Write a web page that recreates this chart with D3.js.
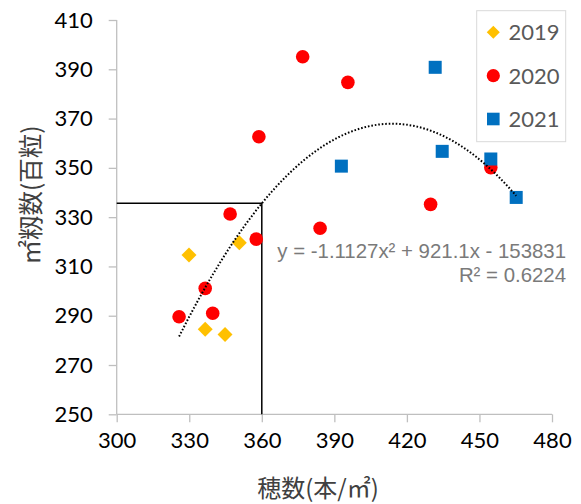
<!DOCTYPE html>
<html>
<head>
<meta charset="utf-8">
<script src="https://cdn.jsdelivr.net/npm/d3@7"></script>
<style>
  html, body { margin: 0; padding: 0; background: #fff; }
  svg { display: block; }
</style>
</head>
<body>
<div id="chart"></div>
<script>
// ---- Data ----
const seriesNames = ["2019", "2020", "2021"];
const x2019 = [329.9, 350.7, 336.6, 344.8];
const y2019 = [314.6, 319.6, 284.5, 282.4];
const x2020 = [346.9, 357.7, 336.6, 325.8, 339.7, 384.1, 358.8, 376.9, 395.6, 429.8, 454.7];
const y2020 = [331.3, 321.1, 301.1, 289.6, 291.0, 325.5, 362.6, 395.1, 384.7, 335.2, 350.1];
const x2021 = [431.7, 392.9, 434.6, 454.7, 465.2];
const y2021 = [390.8, 350.7, 356.7, 353.6, 338.0];
const xTicks = [300, 330, 360, 390, 420, 450, 480];
const yTicks = [250, 270, 290, 310, 330, 350, 370, 390, 410];
// trendline coefficients as displayed (values in grains; chart in hundreds of grains)
const trendCoef = [-1.1127, 921.1, -153831];
const trendScale = 100;
const refX = 360;
const eqLine1 = "y = -1.1127x² + 921.1x - 153831";
const eqLine2 = "R² = 0.6224";
const xTitle = "穂数(本/㎡)";
const yTitle = "㎡籾数(百粒)";

// ---- Chart ----
const W = 581, H = 504;
const svg = d3.select("#chart").append("svg").attr("width", W).attr("height", H);

const x = d3.scaleLinear().domain([300, 480]).range([116.7, 552]);
const y = d3.scaleLinear().domain([250, 410]).range([414.3, 20]);

const axisColor = "#bfbfbf";
const tickFont = "Lato, 'Open Sans', sans-serif";

// Y axis
const yAxis = svg.append("g").attr("transform", `translate(${x(300)},0)`)
  .call(d3.axisLeft(y).tickValues(yTicks).tickSize(8).tickPadding(16).tickFormat(d3.format("d")));
// X axis
const xAxis = svg.append("g").attr("transform", `translate(0,${y(250)})`)
  .call(d3.axisBottom(x).tickValues(xTicks).tickSize(8).tickPadding(10).tickFormat(d3.format("d")));
[xAxis, yAxis].forEach(g => {
  g.select(".domain").attr("stroke", axisColor).attr("stroke-width", 1.3);
  g.selectAll(".tick line").attr("stroke", axisColor).attr("stroke-width", 1.3);
  g.selectAll(".tick text").attr("fill", "#000").style("font-family", tickFont).style("font-size", "22px");
});
yAxis.select(".domain").attr("d", `M0,${y(410)}V${y(250)}`);
xAxis.select(".domain").attr("d", `M${x(300)},0H${x(480)}`);

// Trend function
const trend = v => (trendCoef[0] * v * v + trendCoef[1] * v + trendCoef[2]) / trendScale;

// Reference lines
const refY = trend(refX);
svg.append("path")
  .attr("d", `M${x(300)},${y(refY)}H${x(refX)}V${y(250)}`)
  .attr("fill", "none").attr("stroke", "#000").attr("stroke-width", 1.5);

// Points
const pts19 = x2019.map((v, i) => [v, y2019[i]]);
const pts20 = x2020.map((v, i) => [v, y2020[i]]);
const pts21 = x2021.map((v, i) => [v, y2021[i]]);

svg.append("g").selectAll("path").data(pts19).join("path")
  .attr("d", d3.symbol().type(d3.symbolSquare).size(112))
  .attr("transform", d => `translate(${x(d[0])},${y(d[1])}) rotate(45)`)
  .attr("fill", "#FFC000");
svg.append("g").selectAll("circle").data(pts20).join("circle")
  .attr("cx", d => x(d[0])).attr("cy", d => y(d[1])).attr("r", 6.8)
  .attr("fill", "#FF0000");
svg.append("g").selectAll("rect").data(pts21).join("rect")
  .attr("x", d => x(d[0]) - 6.5).attr("y", d => y(d[1]) - 6.5)
  .attr("width", 13).attr("height", 13)
  .attr("fill", "#0070C0");

// Trendline
const allX = x2019.concat(x2020, x2021);
const tMin = d3.min(allX), tMax = d3.max(allX);
const tPts = d3.range(0, 101).map(i => tMin + (tMax - tMin) * i / 100);
svg.append("path")
  .attr("d", d3.line().x(v => x(v)).y(v => y(trend(v)))(tPts))
  .attr("fill", "none").attr("stroke", "#000").attr("stroke-width", 2)
  .attr("stroke-dasharray", "1.6,1.9");

// Equation label (one text block, two lines)
const eq = svg.append("text")
  .style("font-family", "'Liberation Sans', Arial, sans-serif").style("font-size", "20.4px")
  .attr("fill", "#7a7a7a").attr("text-anchor", "end");
eq.append("tspan").attr("x", 566).attr("y", 258).text(eqLine1);
eq.append("tspan").attr("x", 566).attr("y", 282).text(eqLine2);

// Axis titles
const cjk = "'Noto Sans CJK JP', 'Noto Sans', sans-serif";
svg.append("text").attr("x", 318).attr("y", 497).attr("text-anchor", "middle")
  .style("font-family", cjk).style("font-size", "24px").attr("fill", "#404040").text(xTitle);
svg.append("text").attr("transform", "translate(40,195) rotate(-90)").attr("text-anchor", "middle")
  .style("font-family", cjk).style("font-size", "24.5px").attr("fill", "#404040").text(yTitle);

// Legend
const lg = svg.append("g");
lg.append("rect").attr("x", 476.7).attr("y", 10.7).attr("width", 89).attr("height", 131)
  .attr("fill", "#fff").attr("stroke", "#d9d9d9").attr("stroke-width", 1);
const legY = [32.3, 75.7, 119];
const mx = 493.3;
lg.append("path").attr("d", d3.symbol().type(d3.symbolSquare).size(85)())
  .attr("transform", `translate(${mx},${legY[0]}) rotate(45)`).attr("fill", "#FFC000");
lg.append("circle").attr("cx", mx).attr("cy", legY[1]).attr("r", 6.6).attr("fill", "#FF0000");
lg.append("rect").attr("x", mx - 6.3).attr("y", legY[2] - 6.3).attr("width", 12.6).attr("height", 12.6).attr("fill", "#0070C0");
seriesNames.forEach((n, i) => {
  lg.append("text").attr("x", 508.5).attr("y", legY[i]).attr("dy", "0.36em")
    .style("font-family", tickFont).style("font-size", "22px").attr("fill", "#595959").text(n);
});
</script>
</body>
</html>
